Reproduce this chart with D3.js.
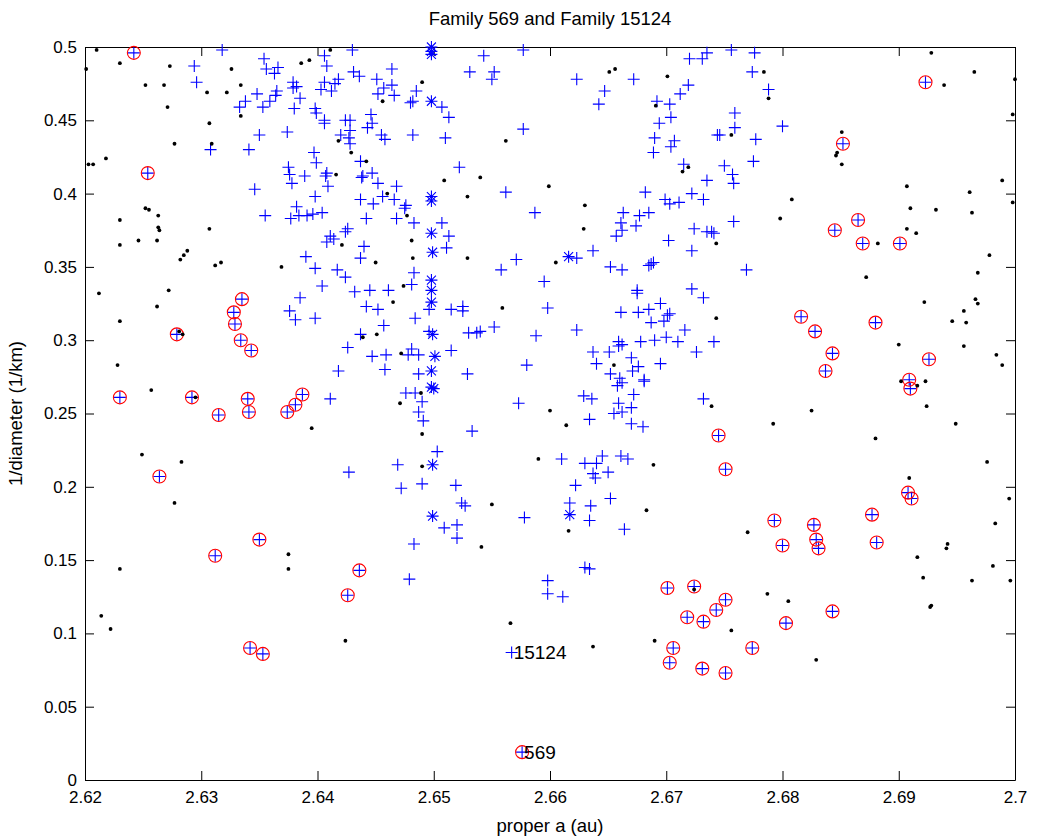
<!DOCTYPE html>
<html>
<head>
<meta charset="utf-8">
<script src="https://cdn.jsdelivr.net/npm/d3@7/dist/d3.min.js"></script>
<style>
  body { margin: 0; background: #fff; }
  svg text { font-family: "Liberation Sans", Arial, Helvetica, sans-serif; }
</style>
</head>
<body>
<svg id="chart" width="1038" height="840"></svg>
<script>
// background asteroids (black dots), [proper a, 1/diameter]
const fieldDots = [
  [2.6210,0.498],[2.6201,0.485],[2.6230,0.489],[2.6273,0.487],[2.6326,0.485],[2.6252,0.474],[2.6268,0.474],[2.6305,0.469],[2.6322,0.469],[2.6334,0.474],
  [2.6271,0.459],[2.6334,0.453],[2.6307,0.448],[2.6277,0.434],[2.6309,0.434],[2.6218,0.424],[2.6203,0.420],[2.6207,0.420],[2.6252,0.390],[2.6255,0.389],
  [2.6263,0.385],[2.6230,0.382],[2.6263,0.377],[2.6264,0.375],[2.6307,0.376],[2.6246,0.368],[2.6262,0.368],[2.6230,0.365],[2.6288,0.361],[2.6285,0.358],
  [2.6282,0.355],[2.6317,0.353],[2.6312,0.351],[2.6369,0.350],
  [2.6411,0.498],[2.6386,0.489],[2.6393,0.491],[2.6490,0.476],[2.6456,0.463],[2.6418,0.436],[2.6429,0.428],[2.6442,0.422],[2.6416,0.413],[2.6562,0.436],
  [2.6540,0.411],[2.6509,0.409],[2.6529,0.398],[2.6460,0.400],[2.6477,0.385],[2.6481,0.368],[2.6421,0.365],[2.6482,0.356],[2.6529,0.356],[2.6450,0.353],
  [2.6474,0.337],
  [2.6651,0.483],[2.6656,0.485],[2.6701,0.480],[2.6784,0.483],[2.6788,0.465],[2.6691,0.460],[2.6756,0.440],[2.6719,0.418],[2.6714,0.415],[2.6599,0.405],
  [2.6630,0.392],[2.6629,0.376],[2.6743,0.366],[2.6605,0.353],
  [2.6928,0.496],[2.6965,0.483],[2.7000,0.478],[2.6939,0.474],[2.6998,0.454],[2.6851,0.442],[2.6846,0.426],[2.6847,0.428],[2.6851,0.420],[2.6907,0.405],
  [2.6961,0.401],[2.6989,0.409],[2.6998,0.394],[2.6808,0.396],[2.6798,0.383],[2.6910,0.390],[2.6932,0.389],[2.6963,0.387],[2.6907,0.376],[2.6915,0.373],
  [2.6882,0.366],[2.6978,0.358],[2.6872,0.343],[2.6968,0.346],
  [2.6212,0.332],[2.6272,0.334],[2.6262,0.323],[2.6230,0.313],[2.6281,0.306],[2.6284,0.304],[2.6228,0.283],[2.6257,0.266],[2.6295,0.261],[2.6249,0.222],
  [2.6283,0.217],[2.6277,0.189],
  [2.6465,0.326],[2.6559,0.322],[2.6439,0.302],[2.6451,0.304],[2.6472,0.291],[2.6489,0.264],[2.6471,0.257],[2.6395,0.240],[2.6490,0.236],[2.6590,0.219],
  [2.6490,0.214],[2.6550,0.188],
  [2.6743,0.315],[2.6655,0.283],[2.6600,0.252],[2.6614,0.242],[2.6739,0.255],[2.6792,0.243],[2.6689,0.215],[2.6683,0.184],[2.6616,0.170],[2.6770,0.169],
  [2.6922,0.326],[2.6966,0.328],[2.6968,0.325],[2.6956,0.320],[2.6946,0.313],[2.6958,0.312],[2.6956,0.296],[2.6900,0.297],[2.6984,0.290],[2.6989,0.283],
  [2.6902,0.272],[2.6916,0.269],[2.6923,0.272],[2.6924,0.255],[2.6825,0.252],[2.6949,0.243],[2.6880,0.233],[2.6976,0.217],[2.6909,0.206],[2.6995,0.192],
  [2.6983,0.175],
  [2.6230,0.144],[2.6214,0.112],[2.6222,0.103],[2.6375,0.154],[2.6375,0.144],
  [2.6541,0.159],[2.6566,0.107],[2.6424,0.095],
  [2.6724,0.130],[2.6787,0.127],[2.6756,0.102],[2.6690,0.095],[2.6637,0.091],
  [2.6916,0.152],[2.6942,0.161],[2.6941,0.158],[2.6921,0.138],[2.6927,0.118],[2.6928,0.119],[2.6963,0.136],[2.6981,0.146],[2.6996,0.136],[2.6805,0.122],
  [2.6829,0.082]
];

// family members (blue +)
const memberPlus = [
  [2.6318,0.498],[2.6294,0.487],[2.6296,0.476],[2.6354,0.492],[2.6356,0.485],[2.6366,0.486],[2.6363,0.482],[2.6379,0.476],[2.6379,0.472],[2.6365,0.470],
  [2.6364,0.467],[2.6359,0.463],[2.6353,0.459],[2.6348,0.468],[2.6338,0.463],[2.6333,0.459],[2.6380,0.458],[2.6374,0.442],[2.6350,0.440],[2.6341,0.430],
  [2.6308,0.430],[2.6375,0.418],[2.6376,0.413],[2.6378,0.407],[2.6346,0.403],[2.6355,0.385],[2.6377,0.383],
  [2.6430,0.498],[2.6406,0.494],[2.6408,0.487],[2.6543,0.494],[2.6577,0.498],[2.6531,0.483],[2.6552,0.483],[2.6550,0.478],[2.6464,0.485],[2.6431,0.483],
  [2.6436,0.480],[2.6451,0.478],[2.6418,0.478],[2.6415,0.475],[2.6406,0.476],[2.6403,0.471],[2.6412,0.470],[2.6382,0.473],[2.6385,0.465],[2.6398,0.458],
  [2.6399,0.455],[2.6406,0.450],[2.6406,0.448],[2.6424,0.450],[2.6428,0.450],[2.6446,0.454],[2.6447,0.448],[2.6443,0.445],[2.6428,0.443],[2.6420,0.440],
  [2.6427,0.438],[2.6428,0.434],[2.6455,0.440],[2.6458,0.437],[2.6452,0.468],[2.6457,0.472],[2.6464,0.474],[2.6466,0.467],[2.6480,0.462],[2.6482,0.463],
  [2.6485,0.470],[2.6507,0.459],[2.6513,0.452],[2.6510,0.438],[2.6482,0.440],[2.6577,0.444],[2.6397,0.428],[2.6399,0.421],[2.6408,0.414],[2.6407,0.412],
  [2.6409,0.405],[2.6389,0.412],[2.6437,0.422],[2.6439,0.412],[2.6438,0.411],[2.6447,0.414],[2.6452,0.407],[2.6468,0.405],[2.6522,0.418],[2.6562,0.401],
  [2.6587,0.387],[2.6398,0.398],[2.6437,0.396],[2.6448,0.393],[2.6456,0.398],[2.6466,0.396],[2.6476,0.392],[2.6475,0.390],[2.6382,0.391],[2.6384,0.385],
  [2.6391,0.385],[2.6396,0.386],[2.6404,0.387],[2.6442,0.383],[2.6468,0.383],[2.6483,0.380],[2.6507,0.380],[2.6513,0.371],[2.6511,0.363],[2.6411,0.371],
  [2.6414,0.369],[2.6408,0.367],[2.6424,0.374],[2.6426,0.376],[2.6440,0.364],[2.6437,0.356],[2.6390,0.357],[2.6398,0.349],[2.6417,0.348],[2.6424,0.343],
  [2.6404,0.337],[2.6483,0.346],[2.6481,0.338],[2.6558,0.348],[2.6571,0.355],
  [2.6623,0.478],[2.6672,0.478],[2.6647,0.470],[2.6642,0.461],[2.6720,0.492],[2.6731,0.492],[2.6735,0.496],[2.6756,0.498],[2.6776,0.496],[2.6774,0.483],
  [2.6788,0.471],[2.6719,0.474],[2.6712,0.468],[2.6692,0.463],[2.6703,0.461],[2.6704,0.452],[2.6694,0.448],[2.6690,0.438],[2.6689,0.428],[2.6707,0.436],
  [2.6704,0.432],[2.6759,0.455],[2.6759,0.445],[2.6744,0.440],[2.6746,0.440],[2.6777,0.437],[2.6775,0.422],[2.6715,0.420],[2.6750,0.419],[2.6757,0.413],
  [2.6758,0.407],[2.6735,0.409],[2.6682,0.401],[2.6699,0.396],[2.6703,0.393],[2.6711,0.394],[2.6722,0.400],[2.6732,0.396],[2.6663,0.387],[2.6677,0.385],
  [2.6685,0.387],[2.6661,0.380],[2.6674,0.378],[2.6662,0.375],[2.6657,0.371],[2.6758,0.381],[2.6724,0.376],[2.6735,0.374],[2.6739,0.374],[2.6741,0.373],
  [2.6702,0.368],[2.6722,0.361],[2.6637,0.361],[2.6623,0.356],[2.6652,0.350],[2.6662,0.348],[2.6685,0.351],[2.6687,0.352],[2.6689,0.353],[2.6769,0.348],
  [2.6595,0.340],[2.6800,0.446],[2.6376,0.320],[2.6381,0.314],
  [2.6385,0.329],[2.6432,0.333],[2.6445,0.334],[2.6461,0.334],[2.6442,0.323],[2.6452,0.321],[2.6398,0.315],[2.6457,0.310],[2.6437,0.304],[2.6426,0.295],
  [2.6447,0.289],[2.6459,0.290],[2.6458,0.280],[2.6418,0.279],[2.6481,0.294],[2.6478,0.290],[2.6487,0.290],[2.6496,0.306],[2.6496,0.321],[2.6484,0.315],
  [2.6515,0.321],[2.6525,0.323],[2.6525,0.320],[2.6530,0.305],[2.6537,0.305],[2.6540,0.306],[2.6552,0.309],[2.6588,0.303],[2.6515,0.293],[2.6487,0.277],
  [2.6529,0.277],[2.6580,0.283],[2.6476,0.264],[2.6484,0.264],[2.6490,0.258],[2.6487,0.251],[2.6491,0.245],[2.6411,0.260],[2.6573,0.257],[2.6533,0.238],
  [2.6503,0.224],[2.6469,0.215],[2.6427,0.210],[2.6472,0.199],[2.6490,0.202],[2.6519,0.201],[2.6524,0.189],[2.6527,0.187],[2.6578,0.179],[2.6509,0.172],
  [2.6520,0.174],
  [2.6675,0.334],[2.6675,0.332],[2.6722,0.335],[2.6732,0.329],[2.6598,0.322],[2.6623,0.307],[2.6661,0.319],[2.6676,0.319],[2.6685,0.321],[2.6695,0.325],
  [2.6701,0.317],[2.6703,0.318],[2.6698,0.313],[2.6687,0.312],[2.6716,0.307],[2.6700,0.302],[2.6690,0.300],[2.6710,0.299],[2.6678,0.299],[2.6741,0.299],
  [2.6726,0.292],[2.6659,0.299],[2.6662,0.297],[2.6659,0.296],[2.6637,0.292],[2.6651,0.292],[2.6640,0.284],[2.6670,0.288],[2.6676,0.282],[2.6671,0.279],
  [2.6695,0.284],[2.6652,0.277],[2.6660,0.274],[2.6681,0.273],[2.6681,0.272],[2.6662,0.271],[2.6658,0.269],[2.6672,0.263],[2.6629,0.262],[2.6636,0.260],
  [2.6659,0.257],[2.6670,0.254],[2.6662,0.251],[2.6655,0.250],[2.6634,0.246],[2.6670,0.243],[2.6680,0.241],[2.6732,0.260],[2.6610,0.219],[2.6630,0.216],
  [2.6640,0.216],[2.6645,0.221],[2.6661,0.221],[2.6667,0.219],[2.6637,0.209],[2.6639,0.206],[2.6650,0.210],[2.6622,0.201],[2.6652,0.192],[2.6635,0.187],
  [2.6617,0.189],[2.6634,0.177],[2.6664,0.171],
  [2.6483,0.161],[2.6479,0.137],[2.6520,0.165],
  [2.6598,0.136],[2.6598,0.127],[2.6611,0.125],[2.6630,0.145],[2.6634,0.144],
  [2.6567,0.087]
];

// family members drawn as asterisks
const memberStar = [
  [2.6498,0.500],[2.6498,0.497],[2.6498,0.495],[2.6498,0.463],[2.6498,0.398],[2.6498,0.395],[2.6498,0.373],[2.6499,0.360],[2.6498,0.341],[2.6498,0.334],
  [2.6498,0.326],[2.6499,0.304],[2.6501,0.289],[2.6498,0.279],[2.6498,0.268],[2.6500,0.267],[2.6499,0.215],[2.6499,0.180],[2.6616,0.357],[2.6617,0.181]
];

// members circled in red
const circled = [
  [2.6242,0.496],[2.6254,0.414],[2.6335,0.328],[2.6328,0.319],[2.6329,0.311],[2.6279,0.304],[2.6334,0.300],[2.6343,0.293],[2.6230,0.261],[2.6292,0.261],
  [2.6340,0.260],[2.6315,0.249],[2.6341,0.251],[2.6374,0.251],[2.6381,0.256],[2.6264,0.207],[2.6387,0.263],[2.6312,0.153],[2.6350,0.164],[2.6342,0.090],
  [2.6353,0.086],[2.6436,0.143],[2.6426,0.126],[2.6576,0.019],
  [2.6923,0.476],[2.6852,0.434],[2.6865,0.382],[2.6845,0.375],[2.6869,0.366],[2.6901,0.366],[2.6745,0.235],[2.6751,0.212],[2.6793,0.177],[2.6816,0.316],
  [2.6828,0.306],[2.6843,0.291],[2.6837,0.279],[2.6880,0.312],[2.6926,0.287],[2.6909,0.273],[2.6910,0.267],[2.6908,0.196],[2.6911,0.192],[2.6877,0.181],
  [2.6827,0.174],[2.6724,0.132],[2.6701,0.131],[2.6751,0.123],[2.6743,0.116],[2.6718,0.111],[2.6732,0.108],[2.6706,0.090],[2.6703,0.080],[2.6731,0.076],
  [2.6751,0.073],[2.6774,0.090],[2.6800,0.160],[2.6829,0.164],[2.6831,0.158],[2.6881,0.162],[2.6843,0.115],[2.6803,0.107]
];

const familyLabels = [
  { text: "15124", a: 2.6567, v: 0.087 },
  { text: "569", a: 2.6576, v: 0.019 }
];

const xTicks = [2.62, 2.63, 2.64, 2.65, 2.66, 2.67, 2.68, 2.69, 2.7];
const xTickLabels = ["2.62", "2.63", "2.64", "2.65", "2.66", "2.67", "2.68", "2.69", "2.7"];
const yTicks = [0, 0.05, 0.1, 0.15, 0.2, 0.25, 0.3, 0.35, 0.4, 0.45, 0.5];
const yTickLabels = ["0", "0.05", "0.1", "0.15", "0.2", "0.25", "0.3", "0.35", "0.4", "0.45", "0.5"];

const svg = d3.select("#chart");
const plotLeft = 85, plotRight = 1015, plotTop = 47, plotBottom = 780;

const x = d3.scaleLinear().domain([2.62, 2.7]).range([plotLeft, plotRight]);
const y = d3.scaleLinear().domain([0, 0.5]).range([plotBottom, plotTop]);

svg.append("rect").attr("width", 1038).attr("height", 840).attr("fill", "#fff");

const xLab = new Map(xTicks.map((t, i) => [t, xTickLabels[i]]));
const yLab = new Map(yTicks.map((t, i) => [t, yTickLabels[i]]));

function styleAxis(g) {
  g.selectAll("path.domain").attr("stroke", "#000");
  g.selectAll(".tick line").attr("stroke", "#000");
  g.selectAll("text").attr("fill", "#000").style("font-size", "17px")
    .style("font-family", "'Liberation Sans', Arial, Helvetica, sans-serif");
}

svg.append("g").attr("transform", `translate(0,${plotBottom})`)
  .call(d3.axisBottom(x).tickValues(xTicks).tickSize(-9).tickSizeOuter(0).tickPadding(11).tickFormat(d => xLab.get(d)))
  .call(styleAxis);
svg.append("g").attr("transform", `translate(0,${plotTop})`)
  .call(d3.axisTop(x).tickValues(xTicks).tickSize(-9).tickSizeOuter(0).tickFormat(""))
  .call(styleAxis);
svg.append("g").attr("transform", `translate(${plotLeft},0)`)
  .call(d3.axisLeft(y).tickValues(yTicks).tickSize(-9).tickSizeOuter(0).tickPadding(8).tickFormat(d => yLab.get(d)))
  .call(styleAxis);
svg.append("g").attr("transform", `translate(${plotRight},0)`)
  .call(d3.axisRight(y).tickValues(yTicks).tickSize(-9).tickSizeOuter(0).tickFormat(""))
  .call(styleAxis);

const plus = "M-6,0H6M0,-6V6";
const star = "M-6,0H6M0,-6V6M-4.5,-4.5L4.5,4.5M-4.5,4.5L4.5,-4.5";

const marks = svg.append("g");

marks.selectAll("path.plus").data(memberPlus.concat(circled)).join("path")
  .attr("class", "plus")
  .attr("transform", d => `translate(${x(d[0])},${y(d[1])})`)
  .attr("d", plus).attr("stroke", "#0000ff").attr("stroke-width", 1.1).attr("fill", "none");

marks.selectAll("path.star").data(memberStar).join("path")
  .attr("class", "star")
  .attr("transform", d => `translate(${x(d[0])},${y(d[1])})`)
  .attr("d", star).attr("stroke", "#0000ff").attr("stroke-width", 1.1).attr("fill", "none");

marks.selectAll("circle.ring").data(circled).join("circle")
  .attr("class", "ring")
  .attr("cx", d => x(d[0])).attr("cy", d => y(d[1])).attr("r", 6.5)
  .attr("stroke", "#ff0000").attr("stroke-width", 1.1).attr("fill", "none");

marks.selectAll("circle.dot").data(fieldDots).join("circle")
  .attr("class", "dot")
  .attr("cx", d => x(d[0])).attr("cy", d => y(d[1])).attr("r", 1.9)
  .attr("fill", "#000");

svg.selectAll("text.fam").data(familyLabels).join("text")
  .attr("class", "fam")
  .attr("x", d => x(d.a) + 2).attr("y", d => y(d.v))
  .attr("dominant-baseline", "central")
  .style("font-size", "19px").attr("fill", "#000")
  .text(d => d.text);

svg.append("text").attr("x", (plotLeft + plotRight) / 2).attr("y", 25)
  .attr("text-anchor", "middle").style("font-size", "18.5px")
  .text("Family 569 and Family 15124");

svg.append("text").attr("x", (plotLeft + plotRight) / 2).attr("y", 832)
  .attr("text-anchor", "middle").style("font-size", "18.5px")
  .text("proper a (au)");

svg.append("text").attr("transform", `translate(22,${(plotTop + plotBottom) / 2}) rotate(-90)`)
  .attr("text-anchor", "middle").style("font-size", "18.5px")
  .text("1/diameter (1/km)");
</script>
</body>
</html>
